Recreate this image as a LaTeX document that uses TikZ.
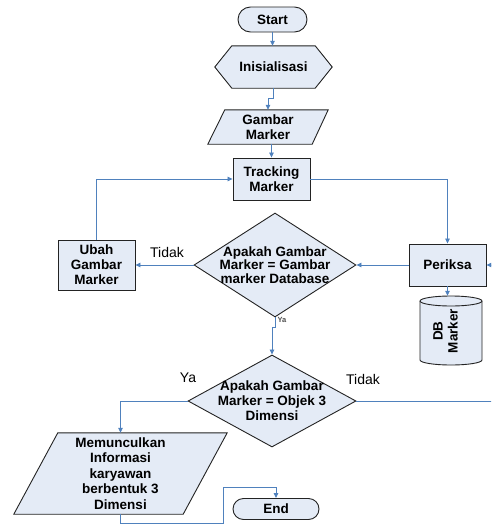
\documentclass[tikz,border=0pt]{standalone}
\usepackage{fontspec}
\setmainfont{Liberation Sans}
\usetikzlibrary{arrows.meta,shapes.geometric,backgrounds,calc}
\definecolor{fillc}{RGB}{228,235,246}
\definecolor{connc}{RGB}{79,129,189}
\definecolor{edgec}{RGB}{35,35,35}
\tikzset{
 shp/.style={draw=edgec, fill=fillc, line width=0.9pt},
 box/.style={inner sep=0pt, align=center, font=\bfseries\fontsize{13.5}{15}\selectfont},
 term/.style={box, shp},
 rect/.style={box, shp, minimum width=77pt, minimum height=42pt},
 dia/.style={diamond, shp, inner sep=0pt},
 conn/.style={draw=connc, line width=0.8pt, -{Triangle[length=5pt,width=4.5pt]}},
 lab/.style={inner sep=0pt, font=\fontsize{14}{16}\selectfont},
 smalllab/.style={inner sep=0pt, text=black!70, font=\bfseries\fontsize{7.5}{8}\selectfont}
}
\begin{document}
\begin{tikzpicture}[x=1pt,y=-1pt]
\useasboundingbox (0,0) rectangle (491,525);
\clip (0,0) rectangle (491,525);

\node[term, minimum width=69pt, minimum height=25pt, rounded corners=12.5pt] (start) at (272.5,19.5) {Start};
\node[box, minimum width=117pt, minimum height=42pt] (ini) at (273.5,67) {Inisialisasi};
\node[box, minimum width=120pt, minimum height=34pt] (gm) at (268,127) {Gambar\\Marker};
\node[rect] (tm) at (271.5,179) {Tracking\\Marker};
\node[rect, minimum height=50pt] (ub) at (96.5,265) {Ubah\\Gambar\\Marker};
\node[rect] (per) at (447.5,265) {Periksa};
\node[dia, minimum width=162pt, minimum height=104pt] (d1) at (275,265) {};
\node[box, font=\bfseries\fontsize{13.5}{13.5}\selectfont] (d1t) at (d1) {Apakah Gambar\\Marker = Gambar\\marker Database};
\node[box, minimum width=62pt, minimum height=70pt] (db) at (447,331) {\rotatebox{90}{\begin{tabular}{@{}c@{}}DB\\Marker\end{tabular}}};
\node[dia, minimum width=168pt, minimum height=92pt] (d2) at (272,401) {};
\node[box] (d2t) at (d2) {Apakah Gambar\\Marker = Objek 3\\Dimensi};
\node[box, minimum width=213pt, minimum height=81pt, font=\bfseries\fontsize{13.5}{15.5}\selectfont] (mem) at (120.5,473.5) {Memunculkan\\Informasi\\karyawan\\berbentuk 3\\Dimensi};
\node[term, minimum width=86pt, minimum height=21pt, rounded corners=10.5pt] (end) at (276,509) {End};

\begin{scope}[on background layer]
\draw[shp] (ini.west) -- ($(ini.north west)+(17,0)$) -- ($(ini.north east)+(-17,0)$) -- (ini.east) -- ($(ini.south east)+(-17,0)$) -- ($(ini.south west)+(17,0)$) -- cycle;
\draw[shp] ($(gm.north west)+(17,0)$) -- (gm.north east) -- ($(gm.south east)+(-16,0)$) -- (gm.south west) -- cycle;
\draw[shp] ($(mem.north west)+(44,0)$) -- (mem.north east) -- ($(mem.south east)+(-44,0)$) -- (mem.south west) -- cycle;
\draw[shp] (420,301) -- (420,360) arc[start angle=180,end angle=0,x radius=31,y radius=5] -- (482,301) arc[start angle=0,end angle=-180,x radius=31,y radius=5] -- cycle;
\draw[draw=edgec, line width=0.9pt] (420,301) arc[start angle=180,end angle=0,x radius=31,y radius=5];
\end{scope}

\coordinate (rloop) at (515,401);
\coordinate (j1) at (223,523);
\coordinate (j2) at (223,487);

\draw[conn] (start.south) -- (start.south |- ini.north);
\draw[conn] (ini.south) -- ++(0,10) -| (gm.north);
\draw[conn] (tm.north |- gm.south) -- (tm.north);
\draw[conn] (ub.north) |- (tm.west);
\draw[conn] (tm.east) -| (per.north);
\draw[conn] (per.west) -- (d1.east);
\draw[conn] (d1.west) -- (ub.east);
\draw[conn] (per.south) -- (per.south |- db.north);
\draw[conn] (d1.south) -- ++(0,10) -| (d2.north);
\draw[conn] (d2.west) -| (mem.north);
\draw[conn] (d2.east) -- (rloop) |- (per.east);
\draw[conn] (mem.south) |- (j1) -- (j2) -| (end.north);

\node[lab] (t1) at (167,252) {Tidak};
\node[lab] (y1) at (188,378) {Ya};
\node[lab] (t2) at (363,379) {Tidak};
\node[smalllab] (y2) at (282,320) {Ya};
\end{tikzpicture}
\end{document}
